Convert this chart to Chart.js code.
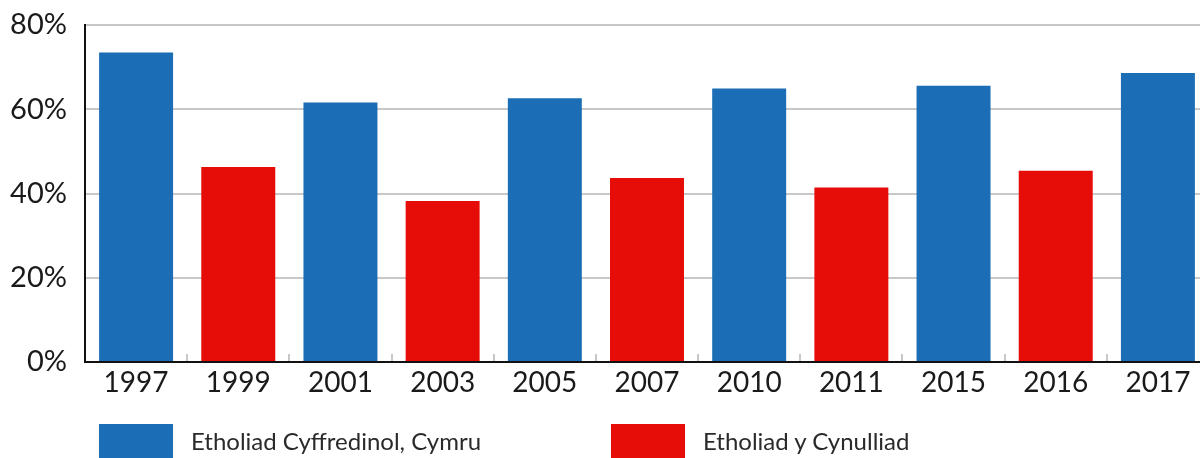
<!DOCTYPE html>
<html>
<head>
<meta charset="utf-8">
<script src="https://cdn.jsdelivr.net/npm/chart.js@4.4.0/dist/chart.umd.min.js"></script>
<style>
  html, body { margin: 0; padding: 0; background: #fff; overflow: hidden; }
  #wrap { position: relative; width: 1210px; height: 458px; }
  #legend { position: absolute; left: 0; top: 424px; width: 1200px; height: 34px;
            font-family: Lato, "Noto Sans", sans-serif; font-size: 24px; color: #2a2a2a; }
  .item { position: absolute; top: 0; height: 34px; }
  .box { position: absolute; left: 0; top: 0; width: 74px; height: 34px; }
  .lbl { position: absolute; left: 92px; top: 0; line-height: 34px; white-space: nowrap; }
</style>
</head>
<body>
<div id="wrap">
  <canvas id="chart" width="1210" height="458"></canvas>
  <div id="legend"></div>
</div>
<script>
// years on the x axis
let years = ["1997", "1999", "2001", "2003", "2005", "2007", "2010", "2011", "2015", "2016", "2017"];
// turnout, general elections in Wales (null where an assembly year)
let general = [73.5, null, 61.6, null, 62.6, null, 64.9, null, 65.6, null, 68.6];
// turnout, assembly elections
let assembly = [null, 46.3, null, 38.2, null, 43.7, null, 41.4, null, 45.4, null];
let seriesNames = ["Etholiad Cyffredinol, Cymru", "Etholiad y Cynulliad"];
let yTicks = [0, 20, 40, 60, 80];

let blue = '#1b6db5';
let red = '#e60d08';

let ctx = document.getElementById("chart");
let myChart = new Chart(ctx, {
    type: 'bar',
    data: {
        labels: years,
        datasets: [
            { label: seriesNames[0], data: general, backgroundColor: blue },
            { label: seriesNames[1], data: assembly, backgroundColor: red }
        ]
    },
    options: {
        responsive: false,
        animation: false,
        grouped: false,
        categoryPercentage: 1,
        barPercentage: 0.724,
        layout: { padding: { top: 25, right: 1 } },
        plugins: { legend: { display: false }, tooltip: { enabled: false } },
        scales: {
            x: {
                grid: { drawOnChartArea: false, drawTicks: true, tickLength: -8, color: '#c8c8c8', lineWidth: 2 },
                border: { color: '#111', width: 2 },
                ticks: { color: '#1a1a1a', font: { family: 'Lato, "Noto Sans", sans-serif', size: 28 }, padding: 12 },
                afterFit: function (scale) { scale.height = 96; }
            },
            y: {
                min: 0,
                max: 80,
                afterBuildTicks: function (scale) { scale.ticks = yTicks.map(v => ({ value: v })); },
                grid: { color: '#c8c8c8', lineWidth: 2, drawTicks: false },
                border: { color: '#111', width: 2 },
                ticks: {
                    color: '#1a1a1a',
                    font: { family: 'Lato, "Noto Sans", sans-serif', size: 29 },
                    padding: 18,
                    callback: function (v) { return v + '%'; }
                },
                afterFit: function (scale) {
                    scale.width = 85;
                    scale.paddingTop = 0;
                    scale.paddingBottom = 0;
                }
            }
        }
    }
});

// legend underneath, built from the datasets
let legend = document.getElementById("legend");
let lefts = [99, 611];
myChart.data.datasets.forEach(function (ds, i) {
    let item = document.createElement("div");
    item.className = "item";
    item.style.left = lefts[i] + "px";
    item.innerHTML = '<div class="box" style="background:' + ds.backgroundColor + '"></div>' +
        '<div class="lbl">' + ds.label + '</div>';
    legend.appendChild(item);
});
</script>
</body>
</html>
